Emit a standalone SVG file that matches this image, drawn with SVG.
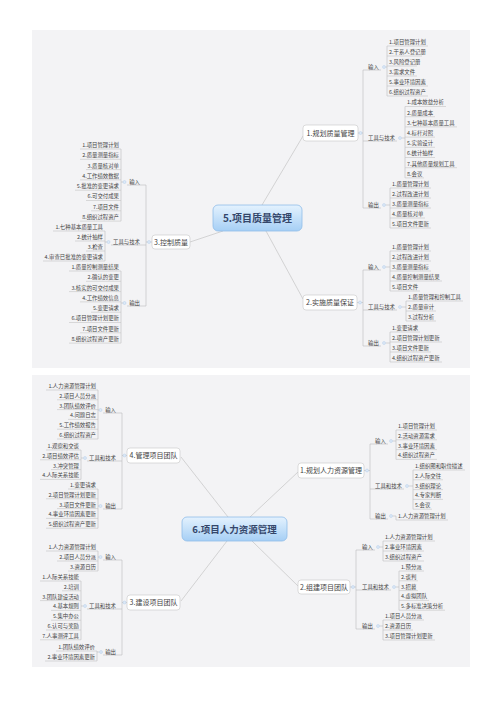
<svg xmlns="http://www.w3.org/2000/svg" width="500" height="707" viewBox="0 0 500 707">
<defs>
<linearGradient id="g" x1="0" y1="0" x2="0" y2="1"><stop offset="0" stop-color="#e4f2fe"/><stop offset="1" stop-color="#a6cff5"/></linearGradient>
<style>
.p{fill:#f3f3f5}
.c rect{fill:url(#g);stroke:#8fbde8;stroke-width:.8}
.c text{font:bold 10px "Noto Sans CJK SC","Noto Sans",sans-serif;fill:#34466a;text-anchor:middle}
.b rect{fill:#fff;stroke:#c6c6c6;stroke-width:.6}
.b text{font:7px "Noto Sans CJK SC","Noto Sans",sans-serif;fill:#444;text-anchor:middle}
.t,.l{font:5.4px "Noto Sans CJK SC","Noto Sans",sans-serif;fill:#444}
.e{text-anchor:end}
.u{stroke:#c4c4c4;stroke-width:.6}
.k line{stroke:#bcbcbc;stroke-width:.6;fill:none}
.d{fill:#dce9f7;stroke:#aac6e6;stroke-width:.4}
</style>
</defs>
<rect width="500" height="707" fill="#fff"/>
<rect class="p" x="32" y="30" width="438" height="338"/>
<rect class="p" x="32" y="375" width="438" height="292"/>

<g id="connectors" class="k">
<line x1="262" y1="205" x2="303" y2="136"/>
<line x1="266" y1="231" x2="303" y2="299"/>
<line x1="223" y1="231" x2="190" y2="242"/>
<line x1="358" y1="133" x2="363" y2="133"/>
<line x1="363" y1="70" x2="363" y2="208"/>
<line x1="363" y1="70" x2="381" y2="70"/><line x1="363" y1="141" x2="397" y2="141"/><line x1="363" y1="208" x2="381" y2="208"/>
<line x1="385.5" y1="67" x2="387" y2="67"/><line x1="401.5" y1="138" x2="405" y2="138"/><line x1="385.5" y1="205" x2="390" y2="205"/>
<line x1="387" y1="46" x2="387" y2="96"/><line x1="405" y1="106.5" x2="405" y2="177.9"/><line x1="390" y1="188" x2="390" y2="228"/>
<line x1="357" y1="302.5" x2="363" y2="302.5"/>
<line x1="363" y1="270" x2="363" y2="346"/>
<line x1="363" y1="270" x2="381" y2="270"/><line x1="363" y1="310" x2="397" y2="310"/><line x1="363" y1="346" x2="381" y2="346"/>
<line x1="385.5" y1="267" x2="390" y2="267"/><line x1="401.5" y1="307" x2="406" y2="307"/><line x1="385.5" y1="343" x2="390" y2="343"/>
<line x1="390" y1="251" x2="390" y2="291"/><line x1="406" y1="301" x2="406" y2="321"/><line x1="390" y1="332" x2="390" y2="362"/>
<line x1="152" y1="242" x2="146" y2="242"/>
<line x1="146" y1="185" x2="146" y2="306"/>
<line x1="127" y1="185" x2="146" y2="185"/><line x1="111" y1="245" x2="146" y2="245"/><line x1="127" y1="306" x2="146" y2="306"/>
<line x1="123" y1="182" x2="121" y2="182"/><line x1="107" y1="242" x2="105" y2="242"/><line x1="123" y1="303" x2="121" y2="303"/>
<line x1="121" y1="149" x2="121" y2="221.1"/><line x1="105" y1="231" x2="105" y2="261"/><line x1="121" y1="271" x2="121" y2="343.1"/>

<line x1="250" y1="517" x2="298" y2="472"/>
<line x1="252" y1="541" x2="298" y2="586"/>
<line x1="228" y1="517" x2="181" y2="457"/>
<line x1="227" y1="541" x2="181" y2="601"/>
<line x1="364" y1="470.5" x2="370" y2="470.5"/>
<line x1="370" y1="444" x2="370" y2="519"/>
<line x1="370" y1="444" x2="388" y2="444"/><line x1="370" y1="489" x2="404" y2="489"/><line x1="370" y1="519" x2="388" y2="519"/>
<line x1="392.5" y1="441" x2="396" y2="441"/><line x1="408.5" y1="486" x2="413" y2="486"/><line x1="392.5" y1="516" x2="396" y2="516"/><line x1="396" y1="516" x2="396" y2="520"/>
<line x1="396" y1="430" x2="396" y2="459.4"/><line x1="413" y1="470" x2="413" y2="509.2"/>
<line x1="350" y1="587" x2="356" y2="587"/>
<line x1="356" y1="550" x2="356" y2="629"/>
<line x1="356" y1="550" x2="375" y2="550"/><line x1="356" y1="590" x2="391" y2="590"/><line x1="356" y1="629" x2="375" y2="629"/>
<line x1="379.5" y1="547" x2="383" y2="547"/><line x1="395.5" y1="587" x2="399" y2="587"/><line x1="379.5" y1="626" x2="383" y2="626"/>
<line x1="383" y1="541" x2="383" y2="561"/><line x1="399" y1="571" x2="399" y2="610.2"/><line x1="383" y1="620" x2="383" y2="640"/>
<line x1="127" y1="455.5" x2="122" y2="455.5"/>
<line x1="122" y1="413" x2="122" y2="509"/>
<line x1="103" y1="413" x2="122" y2="413"/><line x1="87" y1="461" x2="122" y2="461"/><line x1="103" y1="509" x2="122" y2="509"/>
<line x1="99" y1="410" x2="98" y2="410"/><line x1="83.5" y1="458" x2="81" y2="458"/><line x1="99" y1="506" x2="98" y2="506"/>
<line x1="98" y1="390" x2="98" y2="439"/><line x1="81" y1="450" x2="81" y2="479.4"/><line x1="98" y1="489" x2="98" y2="528.2"/>
<line x1="127" y1="602.5" x2="122" y2="602.5"/>
<line x1="122" y1="560" x2="122" y2="655"/>
<line x1="103" y1="560" x2="122" y2="560"/><line x1="87" y1="609" x2="122" y2="609"/><line x1="103" y1="655" x2="122" y2="655"/>
<line x1="99" y1="557" x2="98" y2="557"/><line x1="83.5" y1="606" x2="81" y2="606"/><line x1="99.5" y1="652" x2="97" y2="652"/>
<line x1="98" y1="551" x2="98" y2="571"/><line x1="81" y1="581" x2="81" y2="639.8"/><line x1="97" y1="651" x2="97" y2="661"/>
</g>

<!-- TOP MAP -->
<g id="center-quality" class="c"><rect x="213" y="205" width="89" height="26" rx="5"/><text x="257.5" y="221.5">5.项目质量管理</text></g>
<g id="plan-quality" class="b"><rect x="303" y="125" width="55" height="16" rx="3"/><text x="330.5" y="135.5">1.规划质量管理</text><circle class="d" cx="360.5" cy="133" r="1.5"/></g>
<g id="perform-qa" class="b"><rect x="303" y="295" width="54" height="15" rx="3"/><text x="330" y="305">2.实施质量保证</text><circle class="d" cx="360" cy="302.5" r="1.5"/></g>
<g id="control-quality" class="b"><rect x="152" y="235" width="38" height="14" rx="3"/><text x="171" y="244.5">3.控制质量</text><circle class="d" cx="149" cy="242" r="1.5"/></g>

<g id="pq-in"><text class="l" x="368" y="68.9">输入</text><circle class="d" cx="384" cy="67" r="1.5"/></g>
<g id="pq-in-1"><text class="t" x="389" y="43.9">1.项目管理计划</text><line class="u" x1="387" y1="46" x2="428" y2="46"/></g>
<g id="pq-in-2"><text class="t" x="389" y="53.9">2.干系人登记册</text><line class="u" x1="387" y1="56" x2="422" y2="56"/></g>
<g id="pq-in-3"><text class="t" x="389" y="63.9">3.风险登记册</text><line class="u" x1="387" y1="66" x2="417" y2="66"/></g>
<g id="pq-in-4"><text class="t" x="389" y="73.9">3.需求文件</text><line class="u" x1="387" y1="76" x2="417" y2="76"/></g>
<g id="pq-in-5"><text class="t" x="389" y="83.9">5.事业环境因素</text><line class="u" x1="387" y1="86" x2="428" y2="86"/></g>
<g id="pq-in-6"><text class="t" x="389" y="93.9">6.组织过程资产</text><line class="u" x1="387" y1="96" x2="428" y2="96"/></g>
<g id="pq-tt"><text class="l" x="368" y="139.9">工具与技术</text><circle class="d" cx="400" cy="138" r="1.5"/></g>
<g id="pq-tt-1"><text class="t" x="407" y="104.4">1.成本效益分析</text><line class="u" x1="405" y1="106.5" x2="446" y2="106.5"/></g>
<g id="pq-tt-2"><text class="t" x="407" y="114.6">2.质量成本</text><line class="u" x1="405" y1="116.7" x2="435" y2="116.7"/></g>
<g id="pq-tt-3"><text class="t" x="407" y="124.8">3.七种基本质量工具</text><line class="u" x1="405" y1="126.9" x2="457" y2="126.9"/></g>
<g id="pq-tt-4"><text class="t" x="407" y="135">4.标杆对照</text><line class="u" x1="405" y1="137.1" x2="435" y2="137.1"/></g>
<g id="pq-tt-5"><text class="t" x="407" y="145.2">5.实验设计</text><line class="u" x1="405" y1="147.3" x2="435" y2="147.3"/></g>
<g id="pq-tt-6"><text class="t" x="407" y="155.4">6.统计抽样</text><line class="u" x1="405" y1="157.5" x2="435" y2="157.5"/></g>
<g id="pq-tt-7"><text class="t" x="407" y="165.6">7.其他质量规划工具</text><line class="u" x1="405" y1="167.7" x2="457" y2="167.7"/></g>
<g id="pq-tt-8"><text class="t" x="407" y="175.8">8.会议</text><line class="u" x1="405" y1="177.9" x2="424" y2="177.9"/></g>
<g id="pq-out"><text class="l" x="368" y="206.9">输出</text><circle class="d" cx="384" cy="205" r="1.5"/></g>
<g id="pq-out-1"><text class="t" x="392" y="185.9">1.质量管理计划</text><line class="u" x1="390" y1="188" x2="431" y2="188"/></g>
<g id="pq-out-2"><text class="t" x="392" y="195.9">2.过程改进计划</text><line class="u" x1="390" y1="198" x2="431" y2="198"/></g>
<g id="pq-out-3"><text class="t" x="392" y="205.9">3.质量测量指标</text><line class="u" x1="390" y1="208" x2="431" y2="208"/></g>
<g id="pq-out-4"><text class="t" x="392" y="215.9">4.质量核对单</text><line class="u" x1="390" y1="218" x2="425" y2="218"/></g>
<g id="pq-out-5"><text class="t" x="392" y="225.9">5.项目文件更新</text><line class="u" x1="390" y1="228" x2="431" y2="228"/></g>

<g id="qa-in"><text class="l" x="368" y="268.9">输入</text><circle class="d" cx="384" cy="267" r="1.5"/></g>
<g id="qa-in-1"><text class="t" x="392" y="248.9">1.质量管理计划</text><line class="u" x1="390" y1="251" x2="431" y2="251"/></g>
<g id="qa-in-2"><text class="t" x="392" y="258.9">2.过程改进计划</text><line class="u" x1="390" y1="261" x2="431" y2="261"/></g>
<g id="qa-in-3"><text class="t" x="392" y="268.9">3.质量测量指标</text><line class="u" x1="390" y1="271" x2="431" y2="271"/></g>
<g id="qa-in-4"><text class="t" x="392" y="278.9">4.质量控制测量结果</text><line class="u" x1="390" y1="281" x2="442" y2="281"/></g>
<g id="qa-in-5"><text class="t" x="392" y="288.9">5.项目文件</text><line class="u" x1="390" y1="291" x2="420" y2="291"/></g>
<g id="qa-tt"><text class="l" x="368" y="308.9">工具与技术</text><circle class="d" cx="400" cy="307" r="1.5"/></g>
<g id="qa-tt-1"><text class="t" x="408" y="298.9">1.质量管理和控制工具</text><line class="u" x1="406" y1="301" x2="463" y2="301"/></g>
<g id="qa-tt-2"><text class="t" x="408" y="308.9">2.质量审计</text><line class="u" x1="406" y1="311" x2="436" y2="311"/></g>
<g id="qa-tt-3"><text class="t" x="408" y="318.9">3.过程分析</text><line class="u" x1="406" y1="321" x2="436" y2="321"/></g>
<g id="qa-out"><text class="l" x="368" y="344.9">输出</text><circle class="d" cx="384" cy="343" r="1.5"/></g>
<g id="qa-out-1"><text class="t" x="392" y="329.9">1.变更请求</text><line class="u" x1="390" y1="332" x2="420" y2="332"/></g>
<g id="qa-out-2"><text class="t" x="392" y="339.9">2.项目管理计划更新</text><line class="u" x1="390" y1="342" x2="442" y2="342"/></g>
<g id="qa-out-3"><text class="t" x="392" y="349.9">3.项目文件更新</text><line class="u" x1="390" y1="352" x2="431" y2="352"/></g>
<g id="qa-out-4"><text class="t" x="392" y="359.9">4.组织过程资产更新</text><line class="u" x1="390" y1="362" x2="442" y2="362"/></g>

<g id="cq-in"><text class="l e" x="140" y="183.9">输入</text><circle class="d" cx="124.5" cy="182" r="1.5"/></g>
<g id="cq-in-1"><text class="t e" x="119" y="146.9">1.项目管理计划</text><line class="u" x1="80" y1="149" x2="121" y2="149"/></g>
<g id="cq-in-2"><text class="t e" x="119" y="157.2">2.质量测量指标</text><line class="u" x1="80" y1="159.3" x2="121" y2="159.3"/></g>
<g id="cq-in-3"><text class="t e" x="119" y="167.5">3.质量核对单</text><line class="u" x1="86" y1="169.6" x2="121" y2="169.6"/></g>
<g id="cq-in-4"><text class="t e" x="119" y="177.8">4.工作绩效数据</text><line class="u" x1="80" y1="179.9" x2="121" y2="179.9"/></g>
<g id="cq-in-5"><text class="t e" x="119" y="188.1">5.批准的变更请求</text><line class="u" x1="75" y1="190.2" x2="121" y2="190.2"/></g>
<g id="cq-in-6"><text class="t e" x="119" y="198.4">6.可交付成果</text><line class="u" x1="86" y1="200.5" x2="121" y2="200.5"/></g>
<g id="cq-in-7"><text class="t e" x="119" y="208.7">7.项目文件</text><line class="u" x1="91" y1="210.8" x2="121" y2="210.8"/></g>
<g id="cq-in-8"><text class="t e" x="119" y="219">8.组织过程资产</text><line class="u" x1="80" y1="221.1" x2="121" y2="221.1"/></g>
<g id="cq-tt"><text class="l e" x="140" y="243.9">工具与技术</text><circle class="d" cx="108.5" cy="242" r="1.5"/></g>
<g id="cq-tt-1"><text class="t e" x="103" y="228.9">1.七种基本质量工具</text><line class="u" x1="53" y1="231" x2="105" y2="231"/></g>
<g id="cq-tt-2"><text class="t e" x="103" y="238.9">2.统计抽样</text><line class="u" x1="75" y1="241" x2="105" y2="241"/></g>
<g id="cq-tt-3"><text class="t e" x="103" y="248.9">3.检查</text><line class="u" x1="86" y1="251" x2="105" y2="251"/></g>
<g id="cq-tt-4"><text class="t e" x="103" y="258.9">4.审查已批准的变更请求</text><line class="u" x1="43" y1="261" x2="105" y2="261"/></g>
<g id="cq-out"><text class="l e" x="140" y="304.9">输出</text><circle class="d" cx="124.5" cy="303" r="1.5"/></g>
<g id="cq-out-1"><text class="t e" x="119" y="268.9">1.质量控制测量结果</text><line class="u" x1="69" y1="271" x2="121" y2="271"/></g>
<g id="cq-out-2"><text class="t e" x="119" y="279.2">2.确认的变更</text><line class="u" x1="86" y1="281.3" x2="121" y2="281.3"/></g>
<g id="cq-out-3"><text class="t e" x="119" y="289.5">3.核实的可交付成果</text><line class="u" x1="69" y1="291.6" x2="121" y2="291.6"/></g>
<g id="cq-out-4"><text class="t e" x="119" y="299.8">4.工作绩效信息</text><line class="u" x1="80" y1="301.9" x2="121" y2="301.9"/></g>
<g id="cq-out-5"><text class="t e" x="119" y="310.1">5.变更请求</text><line class="u" x1="91" y1="312.2" x2="121" y2="312.2"/></g>
<g id="cq-out-6"><text class="t e" x="119" y="320.4">6.项目管理计划更新</text><line class="u" x1="69" y1="322.5" x2="121" y2="322.5"/></g>
<g id="cq-out-7"><text class="t e" x="119" y="330.7">7.项目文件更新</text><line class="u" x1="80" y1="332.8" x2="121" y2="332.8"/></g>
<g id="cq-out-8"><text class="t e" x="119" y="341">8.组织过程资产更新</text><line class="u" x1="69" y1="343.1" x2="121" y2="343.1"/></g>

<!-- BOTTOM MAP -->
<g id="center-hr" class="c"><rect x="182" y="517" width="105" height="24" rx="5"/><text x="234.5" y="532.5" style="font-size:9.5px">6.项目人力资源管理</text></g>
<g id="plan-hr" class="b"><rect x="298" y="463" width="66" height="15" rx="3"/><text x="331" y="473">1.规划人力资源管理</text><circle class="d" cx="367" cy="470.5" r="1.5"/></g>
<g id="acquire-team" class="b"><rect x="298" y="580" width="52" height="14" rx="3"/><text x="324" y="589.5">2.组建项目团队</text><circle class="d" cx="353" cy="587" r="1.5"/></g>
<g id="develop-team" class="b"><rect x="127" y="595" width="53" height="15" rx="3"/><text x="153.5" y="605">3.建设项目团队</text><circle class="d" cx="124.5" cy="602.5" r="1.5"/></g>
<g id="manage-team" class="b"><rect x="127" y="448" width="53" height="15" rx="3"/><text x="153.5" y="458">4.管理项目团队</text><circle class="d" cx="124.5" cy="455.5" r="1.5"/></g>

<g id="ph-in"><text class="l" x="375" y="442.9">输入</text><circle class="d" cx="391" cy="441" r="1.5"/></g>
<g id="ph-in-1"><text class="t" x="398" y="427.9">1.项目管理计划</text><line class="u" x1="396" y1="430" x2="437" y2="430"/></g>
<g id="ph-in-2"><text class="t" x="398" y="437.7">2.活动资源需求</text><line class="u" x1="396" y1="439.8" x2="437" y2="439.8"/></g>
<g id="ph-in-3"><text class="t" x="398" y="447.5">3.事业环境因素</text><line class="u" x1="396" y1="449.6" x2="437" y2="449.6"/></g>
<g id="ph-in-4"><text class="t" x="398" y="457.3">4.组织过程资产</text><line class="u" x1="396" y1="459.4" x2="437" y2="459.4"/></g>
<g id="ph-tt"><text class="l" x="375" y="487.9">工具和技术</text><circle class="d" cx="407" cy="486" r="1.5"/></g>
<g id="ph-tt-1"><text class="t" x="415" y="467.9">1.组织图和职位描述</text><line class="u" x1="413" y1="470" x2="465" y2="470"/></g>
<g id="ph-tt-2"><text class="t" x="415" y="477.7">2.人际交往</text><line class="u" x1="413" y1="479.8" x2="443" y2="479.8"/></g>
<g id="ph-tt-3"><text class="t" x="415" y="487.5">3.组织理论</text><line class="u" x1="413" y1="489.6" x2="443" y2="489.6"/></g>
<g id="ph-tt-4"><text class="t" x="415" y="497.3">4.专家判断</text><line class="u" x1="413" y1="499.4" x2="443" y2="499.4"/></g>
<g id="ph-tt-5"><text class="t" x="415" y="507.1">5.会议</text><line class="u" x1="413" y1="509.2" x2="432" y2="509.2"/></g>
<g id="ph-out"><text class="l" x="375" y="517.9">输出</text><circle class="d" cx="391" cy="516" r="1.5"/></g>
<g id="ph-out-1"><text class="t" x="398" y="517.9">1.人力资源管理计划</text><line class="u" x1="396" y1="520" x2="448" y2="520"/></g>

<g id="at-in"><text class="l" x="362" y="548.9">输入</text><circle class="d" cx="378" cy="547" r="1.5"/></g>
<g id="at-in-1"><text class="t" x="385" y="538.9">1.人力资源管理计划</text><line class="u" x1="383" y1="541" x2="435" y2="541"/></g>
<g id="at-in-2"><text class="t" x="385" y="548.9">2.事业环境因素</text><line class="u" x1="383" y1="551" x2="424" y2="551"/></g>
<g id="at-in-3"><text class="t" x="385" y="558.9">3.组织过程资产</text><line class="u" x1="383" y1="561" x2="424" y2="561"/></g>
<g id="at-tt"><text class="l" x="362" y="588.9">工具和技术</text><circle class="d" cx="394" cy="587" r="1.5"/></g>
<g id="at-tt-1"><text class="t" x="401" y="568.9">1.预分派</text><line class="u" x1="399" y1="571" x2="424" y2="571"/></g>
<g id="at-tt-2"><text class="t" x="401" y="578.7">2.谈判</text><line class="u" x1="399" y1="580.8" x2="418" y2="580.8"/></g>
<g id="at-tt-3"><text class="t" x="401" y="588.5">3.招募</text><line class="u" x1="399" y1="590.6" x2="418" y2="590.6"/></g>
<g id="at-tt-4"><text class="t" x="401" y="598.3">4.虚拟团队</text><line class="u" x1="399" y1="600.4" x2="429" y2="600.4"/></g>
<g id="at-tt-5"><text class="t" x="401" y="608.1">5.多标准决策分析</text><line class="u" x1="399" y1="610.2" x2="445" y2="610.2"/></g>
<g id="at-out"><text class="l" x="362" y="627.9">输出</text><circle class="d" cx="378" cy="626" r="1.5"/></g>
<g id="at-out-1"><text class="t" x="385" y="617.9">1.项目人员分派</text><line class="u" x1="383" y1="620" x2="424" y2="620"/></g>
<g id="at-out-2"><text class="t" x="385" y="627.9">2.资源日历</text><line class="u" x1="383" y1="630" x2="413" y2="630"/></g>
<g id="at-out-3"><text class="t" x="385" y="637.9">3.项目管理计划更新</text><line class="u" x1="383" y1="640" x2="435" y2="640"/></g>

<g id="mt-in"><text class="l e" x="116" y="411.9">输入</text><circle class="d" cx="100.5" cy="410" r="1.5"/></g>
<g id="mt-in-1"><text class="t e" x="96" y="387.9">1.人力资源管理计划</text><line class="u" x1="46" y1="390" x2="98" y2="390"/></g>
<g id="mt-in-2"><text class="t e" x="96" y="397.7">2.项目人员分派</text><line class="u" x1="57" y1="399.8" x2="98" y2="399.8"/></g>
<g id="mt-in-3"><text class="t e" x="96" y="407.5">3.团队绩效评价</text><line class="u" x1="57" y1="409.6" x2="98" y2="409.6"/></g>
<g id="mt-in-4"><text class="t e" x="96" y="417.3">4.问题日志</text><line class="u" x1="68" y1="419.4" x2="98" y2="419.4"/></g>
<g id="mt-in-5"><text class="t e" x="96" y="427.1">5.工作绩效报告</text><line class="u" x1="57" y1="429.2" x2="98" y2="429.2"/></g>
<g id="mt-in-6"><text class="t e" x="96" y="436.9">6.组织过程资产</text><line class="u" x1="57" y1="439" x2="98" y2="439"/></g>
<g id="mt-tt"><text class="l e" x="116" y="459.9">工具和技术</text><circle class="d" cx="85" cy="458" r="1.5"/></g>
<g id="mt-tt-1"><text class="t e" x="79" y="447.9">1.观察和交谈</text><line class="u" x1="46" y1="450" x2="81" y2="450"/></g>
<g id="mt-tt-2"><text class="t e" x="79" y="457.7">2.项目绩效评估</text><line class="u" x1="40" y1="459.8" x2="81" y2="459.8"/></g>
<g id="mt-tt-3"><text class="t e" x="79" y="467.5">3.冲突管理</text><line class="u" x1="51" y1="469.6" x2="81" y2="469.6"/></g>
<g id="mt-tt-4"><text class="t e" x="79" y="477.3">4.人际关系技能</text><line class="u" x1="40" y1="479.4" x2="81" y2="479.4"/></g>
<g id="mt-out"><text class="l e" x="116" y="507.9">输出</text><circle class="d" cx="100.5" cy="506" r="1.5"/></g>
<g id="mt-out-1"><text class="t e" x="96" y="486.9">1.变更请求</text><line class="u" x1="68" y1="489" x2="98" y2="489"/></g>
<g id="mt-out-2"><text class="t e" x="96" y="496.7">2.项目管理计划更新</text><line class="u" x1="46" y1="498.8" x2="98" y2="498.8"/></g>
<g id="mt-out-3"><text class="t e" x="96" y="506.5">3.项目文件更新</text><line class="u" x1="57" y1="508.6" x2="98" y2="508.6"/></g>
<g id="mt-out-4"><text class="t e" x="96" y="516.3">4.事业环境因素更新</text><line class="u" x1="46" y1="518.4" x2="98" y2="518.4"/></g>
<g id="mt-out-5"><text class="t e" x="96" y="526.1">5.组织过程资产更新</text><line class="u" x1="46" y1="528.2" x2="98" y2="528.2"/></g>

<g id="dt-in"><text class="l e" x="116" y="558.9">输入</text><circle class="d" cx="100.5" cy="557" r="1.5"/></g>
<g id="dt-in-1"><text class="t e" x="96" y="548.9">1.人力资源管理计划</text><line class="u" x1="46" y1="551" x2="98" y2="551"/></g>
<g id="dt-in-2"><text class="t e" x="96" y="558.9">2.项目人员分派</text><line class="u" x1="57" y1="561" x2="98" y2="561"/></g>
<g id="dt-in-3"><text class="t e" x="96" y="568.9">3.资源日历</text><line class="u" x1="68" y1="571" x2="98" y2="571"/></g>
<g id="dt-tt"><text class="l e" x="116" y="607.9">工具和技术</text><circle class="d" cx="85" cy="606" r="1.5"/></g>
<g id="dt-tt-1"><text class="t e" x="79" y="578.9">1.人际关系技能</text><line class="u" x1="40" y1="581" x2="81" y2="581"/></g>
<g id="dt-tt-2"><text class="t e" x="79" y="588.7">2.培训</text><line class="u" x1="62" y1="590.8" x2="81" y2="590.8"/></g>
<g id="dt-tt-3"><text class="t e" x="79" y="598.5">3.团队建设活动</text><line class="u" x1="40" y1="600.6" x2="81" y2="600.6"/></g>
<g id="dt-tt-4"><text class="t e" x="79" y="608.3">4.基本规则</text><line class="u" x1="51" y1="610.4" x2="81" y2="610.4"/></g>
<g id="dt-tt-5"><text class="t e" x="79" y="618.1">5.集中办公</text><line class="u" x1="51" y1="620.2" x2="81" y2="620.2"/></g>
<g id="dt-tt-6"><text class="t e" x="79" y="627.9">6.认可与奖励</text><line class="u" x1="46" y1="630" x2="81" y2="630"/></g>
<g id="dt-tt-7"><text class="t e" x="79" y="637.7">7.人事测评工具</text><line class="u" x1="40" y1="639.8" x2="81" y2="639.8"/></g>
<g id="dt-out"><text class="l e" x="116" y="653.9">输出</text><circle class="d" cx="101" cy="652" r="1.5"/></g>
<g id="dt-out-1"><text class="t e" x="95" y="648.9">1.团队绩效评价</text><line class="u" x1="56" y1="651" x2="97" y2="651"/></g>
<g id="dt-out-2"><text class="t e" x="95" y="658.9">2.事业环境因素更新</text><line class="u" x1="45" y1="661" x2="97" y2="661"/></g>
</svg>
